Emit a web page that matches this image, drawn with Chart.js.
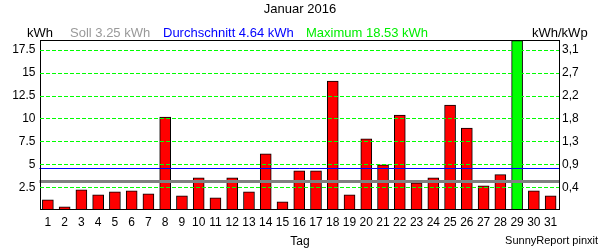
<!DOCTYPE html>
<html>
<head>
<meta charset="utf-8">
<script src="https://cdn.jsdelivr.net/npm/chart.js@4/dist/chart.umd.min.js"></script>
<style>
  html, body { margin: 0; padding: 0; background: #fff; }
  #wrap { width: 600px; height: 250px; position: relative; }
</style>
</head>
<body>
<div id="wrap"><canvas id="chart" width="600" height="250"></canvas></div>
<script>
// Tagesertrag Januar 2016 (kWh)
const days = ['1','2','3','4','5','6','7','8','9','10','11','12','13','14','15','16',
              '17','18','19','20','21','22','23','24','25','26','27','28','29','30','31'];
const dailyYield = [1.20, 0.43, 2.28, 1.74, 2.07, 2.17, 1.85, 10.22, 1.63, 3.59,
                    1.41, 3.59, 2.07, 6.20, 0.98, 4.35, 4.35, 14.13, 1.74, 7.83,
                    5.00, 10.43, 3.04, 3.59, 11.52, 9.02, 2.72, 3.95, 18.53, 2.17, 1.63];
const sollValue = 3.25;
const averageValue = 4.64;
const maximumValue = 18.53;

const leftTicks = [2.5, 5, 7.5, 10, 12.5, 15, 17.5];
const leftTickLabels = ['2.5', '5', '7.5', '10', '12.5', '15', '17.5'];
const rightTickLabels = ['0,4', '0,9', '1,3', '1,8', '2,2', '2,7', '3,1'];

const yMin = 0.2;
const yMax = 18.6;
const FONT = '"Liberation Sans", Arial, sans-serif';

const barColors = dailyYield.map(v => v === maximumValue ? '#00ff00' : '#ff0000');

// Header texts, reference lines and plot frame
const decorPlugin = {
    id: 'decor',
    afterDatasetsDraw(chart) {
        const ctx = chart.ctx;
        const area = chart.chartArea;
        const y = chart.scales.y;
        ctx.save();
        // Soll line (gray, thick)
        ctx.strokeStyle = '#808080';
        ctx.lineWidth = 3;
        ctx.beginPath();
        const ys = Math.round(y.getPixelForValue(sollValue)) + 0.5;
        ctx.moveTo(area.left, ys);
        ctx.lineTo(area.right, ys);
        ctx.stroke();
        // Durchschnitt line (blue)
        ctx.strokeStyle = '#0000ff';
        ctx.lineWidth = 1;
        ctx.beginPath();
        const ya = Math.round(y.getPixelForValue(averageValue)) + 0.5;
        ctx.moveTo(area.left, ya);
        ctx.lineTo(area.right, ya);
        ctx.stroke();
        // frame
        ctx.strokeStyle = '#000';
        ctx.lineWidth = 1;
        ctx.strokeRect(Math.round(area.left) + 0.5, Math.round(area.top) + 0.5,
                       Math.round(area.right) - Math.round(area.left), Math.round(area.bottom) - Math.round(area.top));
        ctx.restore();
    },
    afterDraw(chart) {
        const ctx = chart.ctx;
        ctx.save();
        ctx.textBaseline = 'alphabetic';
        ctx.font = '13px ' + FONT;
        ctx.fillStyle = '#000';
        ctx.textAlign = 'center';
        ctx.fillText('Januar 2016', 300, 13);

        ctx.textAlign = 'left';
        ctx.fillStyle = '#000';
        ctx.fillText('kWh', 27, 37);
        ctx.fillStyle = '#999999';
        ctx.fillText('Soll ' + sollValue.toFixed(2) + ' kWh', 70, 37);
        ctx.fillStyle = '#0000ff';
        ctx.fillText('Durchschnitt ' + averageValue.toFixed(2) + ' kWh', 163, 37);
        ctx.fillStyle = '#00ee00';
        ctx.fillText('Maximum ' + maximumValue.toFixed(2) + ' kWh', 306, 37);
        ctx.fillStyle = '#000';
        ctx.fillText('kWh/kWp', 532, 37);

        ctx.font = '12px ' + FONT;
        ctx.textAlign = 'center';
        ctx.fillText('Tag', 300, 245);

        ctx.font = '11px ' + FONT;
        ctx.textAlign = 'right';
        ctx.fillText('SunnyReport pinxit', 598, 244);
        ctx.restore();
    }
};

const ctx = document.getElementById('chart').getContext('2d');
new Chart(ctx, {
    type: 'bar',
    data: {
        labels: days,
        datasets: [{
            data: dailyYield,
            backgroundColor: barColors,
            borderColor: '#000',
            borderWidth: 1,
            borderSkipped: 'bottom',
            barThickness: 11,
            base: yMin,
            yAxisID: 'y'
        }]
    },
    options: {
        responsive: false,
        animation: false,
        layout: { padding: { top: 40, left: 0, right: 0, bottom: 0 } },
        plugins: {
            legend: { display: false },
            title: { display: false },
            tooltip: { enabled: false }
        },
        scales: {
            x: {
                offset: true,
                grid: { display: false, drawTicks: false },
                border: { display: false },
                ticks: {
                    color: '#000',
                    font: { family: FONT, size: 12 },
                    padding: 6,
                    maxRotation: 0,
                    autoSkip: false
                },
                afterFit(scale) { scale.height = 41; }
            },
            y: {
                position: 'left',
                min: yMin,
                max: yMax,
                afterBuildTicks(scale) { scale.ticks = leftTicks.map(v => ({ value: v })); },
                grid: {
                    color: '#00ff00',
                    lineWidth: 1,
                    drawTicks: false,
                    z: 1
                },
                border: { display: false, dash: [4, 2] },
                ticks: {
                    color: '#000',
                    font: { family: FONT, size: 12 },
                    padding: 4,
                    callback: (v, i) => leftTickLabels[i]
                },
                afterFit(scale) { scale.width = 39.5; }
            },
            y2: {
                position: 'right',
                min: yMin,
                max: yMax,
                afterBuildTicks(scale) { scale.ticks = leftTicks.map(v => ({ value: v })); },
                grid: { display: false, drawTicks: false },
                border: { display: false },
                ticks: {
                    color: '#000',
                    font: { family: FONT, size: 12 },
                    padding: 3,
                    callback: (v, i) => rightTickLabels[i]
                },
                afterFit(scale) { scale.width = 41; }
            }
        }
    },
    plugins: [decorPlugin]
});
</script>
</body>
</html>
